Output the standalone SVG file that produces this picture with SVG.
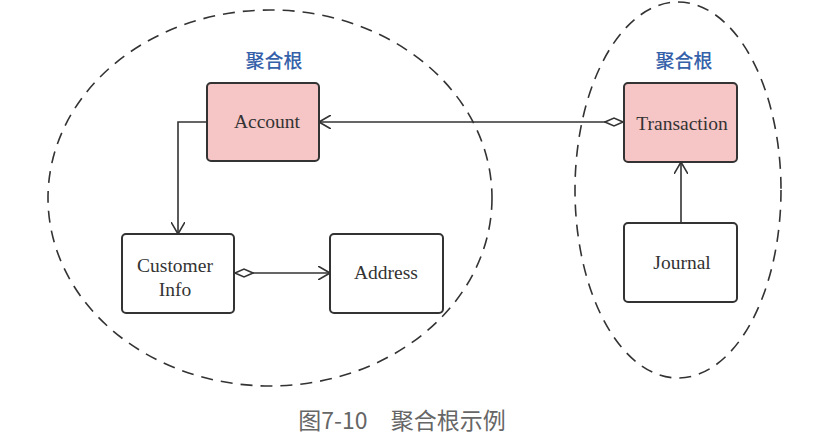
<svg xmlns="http://www.w3.org/2000/svg" width="833" height="445" viewBox="0 0 833 445">
<style>
.box{stroke:#333;stroke-width:2;}
.root{fill:#f6c5c6;}
.plain{fill:#fff;}
.t{font-family:"Liberation Serif","Times New Roman",serif;font-size:19.5px;fill:#333;text-anchor:middle;}
.lbl{font-family:"Noto Sans CJK SC","Noto Sans",sans-serif;font-size:19px;font-weight:500;fill:#3461a9;text-anchor:middle;}
.cap{font-family:"Noto Sans CJK SC","Noto Sans",sans-serif;font-size:23px;fill:#666;text-anchor:middle;}
.agg{fill:none;stroke:#333;stroke-width:1.6;stroke-dasharray:12 8;}
.ln{fill:none;stroke:#333;stroke-width:1.6;}
</style>
<defs>
<marker id="arr" viewBox="0 0 12 14" refX="12" refY="7" markerWidth="12" markerHeight="14" markerUnits="userSpaceOnUse" orient="auto">
<path d="M0,0 L12,7 L0,14" fill="none" stroke="#333" stroke-width="1.6"/>
</marker>
<marker id="dia" viewBox="0 0 20 10" refX="0" refY="5" markerWidth="20" markerHeight="10" markerUnits="userSpaceOnUse" orient="auto">
<path d="M1,5 L10,1 L19,5 L10,9 Z" fill="#fff" stroke="#333" stroke-width="1.5"/>
</marker>
</defs>
<rect width="833" height="445" fill="#fff"/>
<g id="aggregates">
<ellipse class="agg" cx="270" cy="198" rx="222" ry="188"/>
<ellipse class="agg" cx="678" cy="190" rx="103" ry="188"/>
<text class="lbl" x="274" y="68">聚合根</text>
<text class="lbl" x="684" y="68">聚合根</text>
</g>
<g id="connectors">
<path class="ln" d="M207,122 H178 V234" marker-end="url(#arr)"/>
<path class="ln" d="M624,122 H319" marker-start="url(#dia)" marker-end="url(#arr)"/>
<path class="ln" d="M234,273 H330" marker-start="url(#dia)" marker-end="url(#arr)"/>
<path class="ln" d="M681,223 V162" marker-end="url(#arr)"/>
</g>
<g id="account">
<rect class="box root" x="207" y="83" width="112" height="78" rx="4"/>
<text class="t" x="267" y="128">Account</text>
</g>
<g id="customer-info">
<rect class="box plain" x="122" y="234" width="112" height="79" rx="4"/>
<text class="t" x="175" y="272">Customer</text>
<text class="t" x="175" y="296">Info</text>
</g>
<g id="address">
<rect class="box plain" x="330" y="234" width="113" height="79" rx="4"/>
<text class="t" x="386" y="279">Address</text>
</g>
<g id="transaction">
<rect class="box root" x="624" y="83" width="113" height="79" rx="4"/>
<text class="t" x="682" y="130">Transaction</text>
</g>
<g id="journal">
<rect class="box plain" x="624" y="223" width="113" height="79" rx="4"/>
<text class="t" x="682" y="269">Journal</text>
</g>
<text class="cap" x="402" y="429">图7-10　聚合根示例</text>
</svg>
